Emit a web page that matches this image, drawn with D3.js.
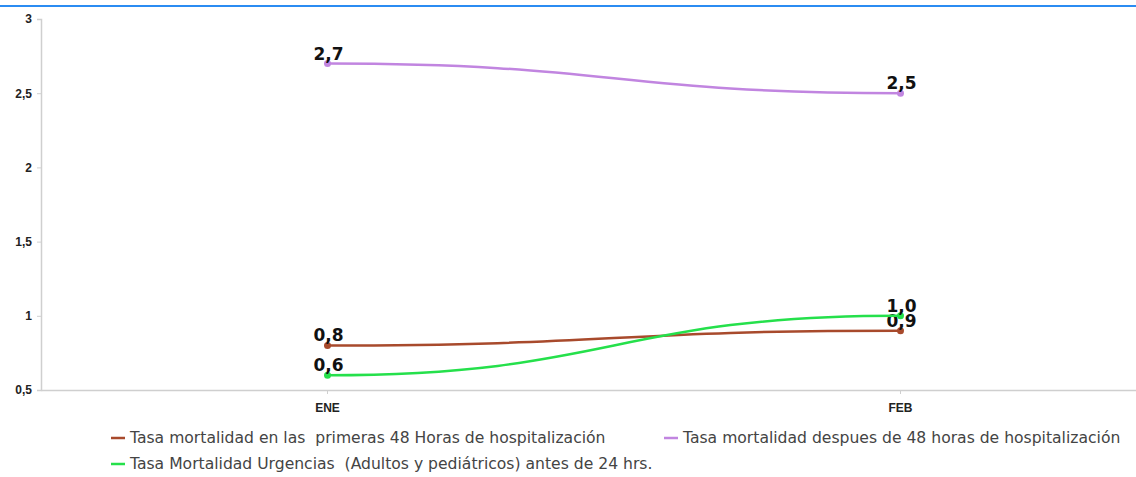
<!DOCTYPE html>
<html>
<head>
<meta charset="utf-8">
<script src="https://cdn.jsdelivr.net/npm/d3@7"></script>
<style>
    body { margin: 0; background: #fff; }
    svg { display: block; font-family: "DejaVu Sans", "Noto Sans", sans-serif; }
</style>
</head>
<body>
<div id="chart"></div>
<script>
// datos
const months = ["ENE", "FEB"];
const seriesNames = [
    "Tasa mortalidad en las  primeras 48 Horas de hospitalización",
    "Tasa mortalidad despues de 48 horas de hospitalización",
    "Tasa Mortalidad Urgencias  (Adultos y pediátricos) antes de 24 hrs."
];
const primeras48 = [0.8, 0.9];
const despues48 = [2.7, 2.5];
const urgencias = [0.6, 1.0];
const seriesColors = ["#a84a2c", "#c185e0", "#25e04b"];
const yTicks = [0.5, 1, 1.5, 2, 2.5, 3];

const width = 1136, height = 477;
const margin = { top: 19, left: 41, bottom: 87 };

const svg = d3.select('#chart')
    .append('svg')
    .attr('width', width)
    .attr('height', height);

// linea azul superior
svg.append('line')
    .attr('x1', 0).attr('x2', width)
    .attr('y1', 6).attr('y2', 6)
    .attr('stroke', '#2b8cf2')
    .attr('stroke-width', 2);

const x = d3.scaleBand()
    .domain(months)
    .range([margin.left, margin.left + 1146]);

const y = d3.scaleLinear()
    .domain([0.5, 3])
    .range([height - margin.bottom, margin.top]);

const fmt = v => d3.format(".1f")(v).replace('.', ',');
const fmtTick = v => String(v).replace('.', ',');

// eje Y
const yAxis = svg.append('g')
    .attr('transform', `translate(${margin.left},0)`)
    .call(d3.axisLeft(y).tickValues(yTicks).tickSize(4).tickPadding(5).tickFormat(fmtTick));
yAxis.select('.domain').attr('stroke', '#cfcfcf').attr('stroke-width', 1.5);
yAxis.selectAll('.tick line').attr('stroke', '#cfcfcf');
yAxis.selectAll('text')
    .attr('fill', '#222')
    .style('font-size', '12px')
    .style('font-weight', 'bold');

// eje X
const xAxis = svg.append('g')
    .attr('transform', `translate(0,${y(0.5)})`)
    .call(d3.axisBottom(x).tickSize(4).tickPadding(9).tickSizeOuter(0));
xAxis.select('.domain').attr('stroke', '#cfcfcf').attr('stroke-width', 1.5);
xAxis.selectAll('.tick line').attr('stroke', '#cfcfcf');
xAxis.selectAll('text')
    .attr('fill', '#222')
    .style('font-size', '12px')
    .style('font-weight', 'bold');

const series = [primeras48, despues48, urgencias].map((vals, i) => ({
    name: seriesNames[i],
    color: seriesColors[i],
    values: vals.map((v, j) => ({ month: months[j], value: v }))
}));

const line = d3.line()
    .x(d => x(d.month) + x.bandwidth() / 2)
    .y(d => y(d.value))
    .curve(d3.curveBumpX);

const sG = svg.selectAll('g.serie').data(series)
    .enter().append('g')
    .attr('class', 'serie');

sG.append('path')
    .attr('d', d => line(d.values))
    .attr('fill', 'none')
    .attr('stroke', d => d.color)
    .attr('stroke-width', 2.5);

sG.selectAll('circle').data(d => d.values.map(v => ({ ...v, color: d.color })))
    .enter().append('circle')
    .attr('cx', d => x(d.month) + x.bandwidth() / 2)
    .attr('cy', d => y(d.value))
    .attr('r', 3.5)
    .attr('fill', d => d.color);

sG.selectAll('text.lbl').data(d => d.values)
    .enter().append('text')
    .attr('class', 'lbl')
    .attr('x', d => x(d.month) + x.bandwidth() / 2 + 1)
    .attr('y', d => y(d.value) - 4)
    .attr('text-anchor', 'middle')
    .style('font-size', '17px')
    .style('font-weight', 'bold')
    .attr('fill', '#111')
    .text(d => fmt(d.value));

// leyenda
const legendPos = [[111, 438], [664, 438], [111, 464]];
const leg = svg.selectAll('g.legend').data(series)
    .enter().append('g')
    .attr('class', 'legend')
    .attr('transform', (d, i) => `translate(${legendPos[i][0]},${legendPos[i][1]})`);

leg.append('line')
    .attr('x1', 0).attr('x2', 14)
    .attr('stroke', d => d.color)
    .attr('stroke-width', 2.5);

leg.append('text')
    .attr('x', 19)
    .attr('dy', '0.35em')
    .style('font-size', '15.6px')
    .attr('fill', '#444')
    .style('white-space', 'pre')
    .text(d => d.name);
</script>
</body>
</html>
